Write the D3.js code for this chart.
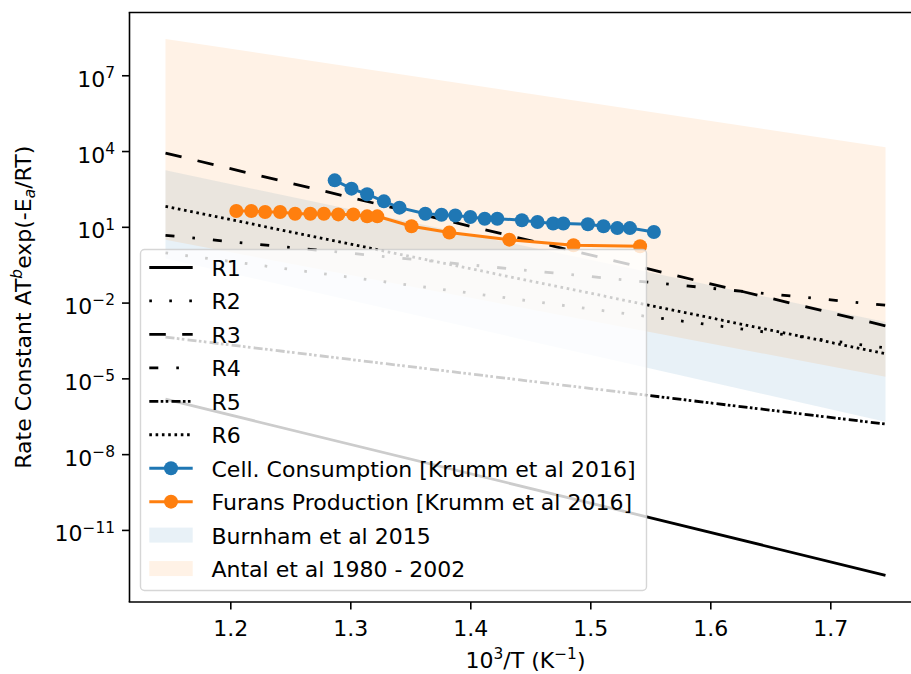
<!DOCTYPE html>
<html>
<head>
<meta charset="utf-8">
<script src="https://cdn.jsdelivr.net/npm/d3@7/dist/d3.min.js"></script>
<style>
  body { margin: 0; background: #fff; }
  svg text { font-family: "DejaVu Sans", sans-serif; fill: #000; }
</style>
</head>
<body>
<svg id="chart" width="911" height="674"></svg>
<script>
// reaction lines R1..R6, values at the two ends of the 10^3/T range
const xEnds = [1.146, 1.746];
const rLabels = ["R1", "R2", "R3", "R4", "R5", "R6"];
const rStart = [1.5e-6, 0.93, 8300, 4.6, 4.3e-4, 65];
const rEnd = [1.6e-13, 1.6e-4, 1.2e-3, 7.9e-3, 1.55e-7, 9.5e-5];

// Krumm et al 2016 measurements
const cellX = [1.287, 1.301, 1.314, 1.328, 1.341, 1.3625, 1.376, 1.3875, 1.400, 1.412,
  1.4225, 1.443, 1.456, 1.469, 1.4775, 1.498, 1.511, 1.5225, 1.533, 1.553];
const cellY = [692, 324, 195, 102, 57.5, 33, 30, 28, 24.5, 21,
  21, 18.2, 15.5, 13.5, 13.5, 12.6, 10.5, 8.9, 8.9, 6.2];
const furX = [1.205, 1.2175, 1.229, 1.2415, 1.254, 1.2667, 1.278, 1.290, 1.3025, 1.314,
  1.3225, 1.351, 1.3825, 1.4325, 1.486, 1.5415];
const furY = [42, 42, 38.5, 38.5, 33, 33, 33, 31, 31, 26,
  26, 10.5, 5.9, 3.1, 1.86, 1.7];

// literature ranges (upper / lower edge at both ends)
const burnHi = [1720, 1.7e-3];
const burnLo = [0.56, 1.9e-7];
const antalHi = [2.75e8, 1.4e4];
const antalLo = [3.06, 1.15e-5];

const xTicks = [1.2, 1.3, 1.4, 1.5, 1.6, 1.7];
const yTickExp = [7, 4, 1, -2, -5, -8, -11];

const legendNames = ["R1", "R2", "R3", "R4", "R5", "R6",
  "Cell. Consumption [Krumm et al 2016]", "Furans Production [Krumm et al 2016]",
  "Burnham et al 2015", "Antal et al 1980 - 2002"];

// styles
const blue = "#1f77b4", orange = "#ff7f0e";
const rDash = [null, "2.6,17.4", "16.5,16.4", "9,18,2.6,18", "9,2.4,2.6,2.4,2.6,3.2", "2.6,3.7"];
const fs = 22, fsSup = 15.4;

const svg = d3.select("#chart");
const pLeft = 129.5, pRight = 921.5, pTop = 12.5, pBottom = 602;

const x = d3.scaleLinear().domain([1.116, 1.776]).range([pLeft, pRight]);
const y = d3.scaleLog().domain([Math.pow(10, -13.854), Math.pow(10, 9.485)]).range([pBottom, pTop]);

svg.append("clipPath").attr("id", "clip")
  .append("rect").attr("x", pLeft).attr("y", pTop).attr("width", pRight - pLeft).attr("height", pBottom - pTop);

const plot = svg.append("g").attr("clip-path", "url(#clip)");

// bands
const band = d3.area().x((d) => x(d.x)).y0((d) => y(d.lo)).y1((d) => y(d.hi));
const bands = [
  { lo: burnLo, hi: burnHi, color: blue },
  { lo: antalLo, hi: antalHi, color: orange },
];
bands.forEach((b) => {
  plot.append("path")
    .datum(xEnds.map((xv, i) => ({ x: xv, lo: b.lo[i], hi: b.hi[i] })))
    .attr("d", band)
    .attr("fill", b.color)
    .attr("fill-opacity", 0.1);
});

// reaction lines
const line = d3.line().x((d) => x(d[0])).y((d) => y(d[1]));
rLabels.forEach((r, i) => {
  plot.append("path")
    .datum([[xEnds[0], rStart[i]], [xEnds[1], rEnd[i]]])
    .attr("d", line)
    .attr("fill", "none")
    .attr("stroke", "#000")
    .attr("stroke-width", 2.8)
    .attr("stroke-dasharray", rDash[i]);
});

// measured series
function series(xs, ys, color) {
  const pts = xs.map((xv, i) => [xv, ys[i]]);
  plot.append("path").datum(pts).attr("d", line)
    .attr("fill", "none").attr("stroke", color).attr("stroke-width", 3);
  plot.append("g").selectAll("circle").data(pts).join("circle")
    .attr("cx", (d) => x(d[0])).attr("cy", (d) => y(d[1]))
    .attr("r", 7).attr("fill", color);
}
series(cellX, cellY, blue);
series(furX, furY, orange);

// axes
const xAxis = svg.append("g").attr("transform", `translate(0,${pBottom})`)
  .call(d3.axisBottom(x).tickValues(xTicks).tickSize(7.5).tickSizeOuter(0).tickPadding(7).tickFormat(d3.format(".1f")));
xAxis.select(".domain").remove();
xAxis.selectAll("line").attr("stroke", "#000").attr("stroke-width", 1.6);
xAxis.selectAll("text").attr("font-size", fs).attr("dy", null).attr("y", 34).style("font-family", "DejaVu Sans");

const yAxis = svg.append("g").attr("transform", `translate(${pLeft},0)`)
  .call(d3.axisLeft(y).tickValues(yTickExp.map((e) => Math.pow(10, e))).tickSize(7.5).tickSizeOuter(0).tickPadding(7).tickFormat(""));
yAxis.select(".domain").remove();
yAxis.selectAll("line").attr("stroke", "#000").attr("stroke-width", 1.6);
yAxis.selectAll(".tick text").each(function (d) {
  const t = d3.select(this).attr("dy", null).attr("y", 11).attr("x", -14.5)
    .attr("font-size", fs).style("font-family", "DejaVu Sans");
  const e = Math.round(Math.log10(d));
  t.append("tspan").text("10");
  t.append("tspan").attr("dy", -8.7).attr("font-size", fsSup).text(String(e).replace("-", "\u2212"));
});

// spines
const spine = svg.append("g").attr("stroke", "#000").attr("stroke-width", 1.6);
spine.append("line").attr("x1", pLeft).attr("x2", pLeft).attr("y1", pTop).attr("y2", pBottom);
spine.append("line").attr("x1", pLeft - 0.8).attr("x2", 911).attr("y1", pTop).attr("y2", pTop);
spine.append("line").attr("x1", pLeft - 0.8).attr("x2", 911).attr("y1", pBottom).attr("y2", pBottom);

// axis labels
const xl = svg.append("text").attr("x", (pLeft + pRight) / 2).attr("y", 668)
  .attr("text-anchor", "middle").attr("font-size", fs);
xl.append("tspan").text("10");
xl.append("tspan").attr("dy", -8.7).attr("font-size", fsSup).text("3");
xl.append("tspan").attr("dy", 8.7).text("/T (K");
xl.append("tspan").attr("dy", -8.7).attr("font-size", fsSup).text("\u22121");
xl.append("tspan").attr("dy", 8.7).text(")");

const yl = svg.append("text").attr("transform", `translate(31,${(pTop + pBottom) / 2}) rotate(-90)`)
  .attr("text-anchor", "middle").attr("font-size", fs);
yl.append("tspan").text("Rate Constant AT");
yl.append("tspan").attr("dy", -8.7).attr("font-size", fsSup).attr("font-style", "italic").text("b");
yl.append("tspan").attr("dy", 8.7).text("exp(-E");
yl.append("tspan").attr("dy", 4).attr("font-size", fsSup).attr("font-style", "italic").text("a");
yl.append("tspan").attr("dy", -4).text("/RT)");

// legend
const lg = svg.append("g");
lg.append("rect").attr("x", 140.5).attr("y", 249.5).attr("width", 506).attr("height", 341)
  .attr("rx", 4).attr("fill", "#fff").attr("fill-opacity", 0.8)
  .attr("stroke", "#cccccc").attr("stroke-opacity", 0.8).attr("stroke-width", 1.4);

const hx0 = 149.3, hx1 = 192.7, tx = 211.5, row0 = 276, rowH = 33.45;
legendNames.forEach((name, i) => {
  const base = row0 + i * rowH, cy = base - 8.5;
  if (i < 6) {
    lg.append("line").attr("x1", hx0).attr("x2", hx1).attr("y1", cy).attr("y2", cy)
      .attr("stroke", "#000").attr("stroke-width", 2.8).attr("stroke-dasharray", rDash[i]);
  } else if (i < 8) {
    const c = i === 6 ? blue : orange;
    lg.append("line").attr("x1", hx0).attr("x2", hx1).attr("y1", cy).attr("y2", cy)
      .attr("stroke", c).attr("stroke-width", 3);
    lg.append("circle").attr("cx", (hx0 + hx1) / 2).attr("cy", cy).attr("r", 7).attr("fill", c);
  } else {
    const c = i === 8 ? blue : orange;
    lg.append("rect").attr("x", hx0).attr("y", cy - 7.5).attr("width", hx1 - hx0).attr("height", 15)
      .attr("fill", c).attr("fill-opacity", 0.1);
  }
  lg.append("text").attr("x", tx).attr("y", base).attr("font-size", fs).text(name);
});
</script>
</body>
</html>
